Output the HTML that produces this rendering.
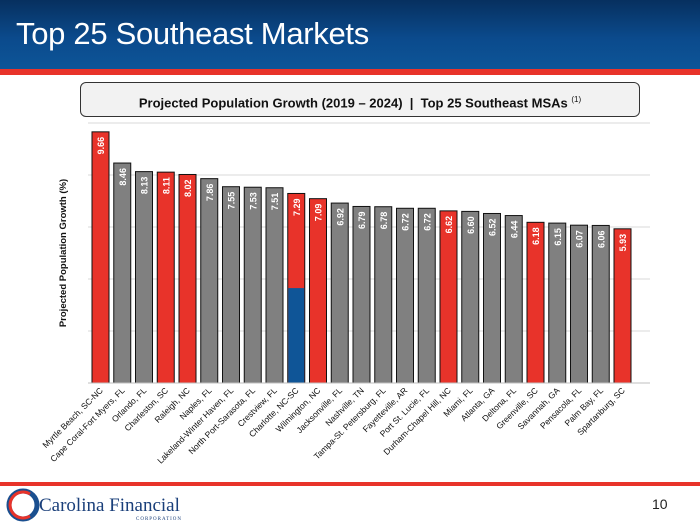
<!DOCTYPE html>
<html><head><meta charset="utf-8"><style>
body{margin:0;width:700px;height:524px;overflow:hidden;background:#fff;font-family:"Liberation Sans",sans-serif;position:relative}
#hdr{position:absolute;left:0;top:0;width:700px;height:69px;background:linear-gradient(180deg,#07305f 0%,#0b4a8c 55%,#0c5598 100%)}
#hdr h1{margin:0;position:absolute;left:16px;top:16px;color:#fff;font-weight:normal;font-size:31px;letter-spacing:-0.3px}
#red1{position:absolute;left:0;top:69px;width:700px;height:6px;background:#e8332a}
#box{position:absolute;left:80px;top:82px;width:558px;height:33px;border:1px solid #333;border-radius:6px;background:#f2f2f2;text-align:center;line-height:33px;font-weight:bold;font-size:13px;color:#111}
#box sup{font-size:8px;font-weight:normal}
#red2{position:absolute;left:0;top:482px;width:700px;height:4px;background:#e8332a}
#logo{position:absolute;left:6px;top:488px}
#pg{position:absolute;left:652px;top:496px;font-size:14px;color:#222}
</style></head><body>
<div id="hdr"><h1>Top 25 Southeast Markets</h1></div>
<div id="red1"></div>
<div id="box">Projected Population Growth (2019 – 2024)&nbsp; |&nbsp; Top 25 Southeast MSAs <sup>(1)</sup></div>
<svg id="chart" width="700" height="524" style="position:absolute;left:0;top:0"></svg>
<div id="red2"></div>
<div id="logo">
<svg width="190" height="34"><circle cx="17" cy="17" r="14" fill="none" stroke="#1a4f8f" stroke-width="5"/><path d="M24 6 A13 13 0 1 0 24 28" fill="none" stroke="#e8332a" stroke-width="3"/>
<text x="33" y="23" font-family="Liberation Serif,serif" font-size="19" fill="#1a3f7a">Carolina Financial</text>
<text x="130" y="32" font-family="Liberation Serif,serif" font-size="5" fill="#1a3f7a" letter-spacing="1">CORPORATION</text></svg></div>
<div id="pg">10</div>
<script>
const categories=["Myrtle Beach, SC-NC","Cape Coral-Fort Myers, FL","Orlando, FL","Charleston, SC","Raleigh, NC","Naples, FL","Lakeland-Winter Haven, FL","North Port-Sarasota, FL","Crestview, FL","Charlotte, NC-SC","Wilmington, NC","Jacksonville, FL","Nashville, TN","Tampa-St. Petersburg, FL","Fayetteville, AR","Port St. Lucie, FL","Durham-Chapel Hill, NC","Miami, FL","Atlanta, GA","Deltona, FL","Greenville, SC","Savannah, GA","Pensacola, FL","Palm Bay, FL","Spartanburg, SC"];
const values=[9.66,8.46,8.13,8.11,8.02,7.86,7.55,7.53,7.51,7.29,7.09,6.92,6.79,6.78,6.72,6.72,6.62,6.60,6.52,6.44,6.18,6.15,6.07,6.06,5.93];
const highlighted=[1,0,0,1,1,0,0,0,0,1,1,0,0,0,0,0,1,0,0,0,1,0,0,0,1];
const blueSegment=[0,0,0,0,0,0,0,0,0,3.65,0,0,0,0,0,0,0,0,0,0,0,0,0,0,0];
const yTicks=[0,2,4,6,8,10];
const NS="http://www.w3.org/2000/svg",svg=document.getElementById('chart');
const y0=383,ppu=26,x0=92,pitch=21.75,bw=17;
const Y=v=>y0-v*ppu, X=i=>x0+i*pitch;
function mk(t,a){const e=document.createElementNS(NS,t);for(const k in a)e.setAttribute(k,a[k]);svg.appendChild(e);return e;}
yTicks.forEach(t=>{const l=mk('line',{x1:88,x2:650,y1:Y(t),y2:Y(t),stroke:'#d9d9d9','stroke-width':1});

});
const yt=mk('text',{x:0,y:0,transform:'translate(66,253) rotate(-90)','text-anchor':'middle','font-size':'9.5','font-weight':'bold',fill:'#111'});
yt.textContent='Projected Population Growth (%)';


values.forEach((v,i)=>{
 const r=mk('rect',{x:X(i),y:Y(v),width:bw,height:v*ppu,fill:highlighted[i]?'#e8332a':'#808080',stroke:'#111','stroke-width':1});
 
 
 if(blueSegment[i]){const b=mk('rect',{x:X(i)+0.5,y:Y(blueSegment[i]),width:bw-1,height:blueSegment[i]*ppu-0.5,fill:'#0f5597'});
  
  }
 const cx=X(i)+bw/2+3.5,ty=Y(v)+5;
 const t=mk('text',{x:0,y:0,transform:`translate(${cx},${ty}) rotate(-90)`,'text-anchor':'end','font-size':'9','font-weight':'bold',fill:'#fff'});
 t.textContent=v.toFixed(2);
 
 
 const c=mk('text',{x:0,y:0,transform:`translate(${X(i)+bw/2+3},${y0+8}) rotate(-45)`,'text-anchor':'end','font-size':'8.5',fill:'#111'});
 c.textContent=categories[i];
 
 
});
const ax=mk('line',{x1:88,x2:650,y1:y0,y2:y0,stroke:'#bfbfbf','stroke-width':1});


</script>
</body></html>
